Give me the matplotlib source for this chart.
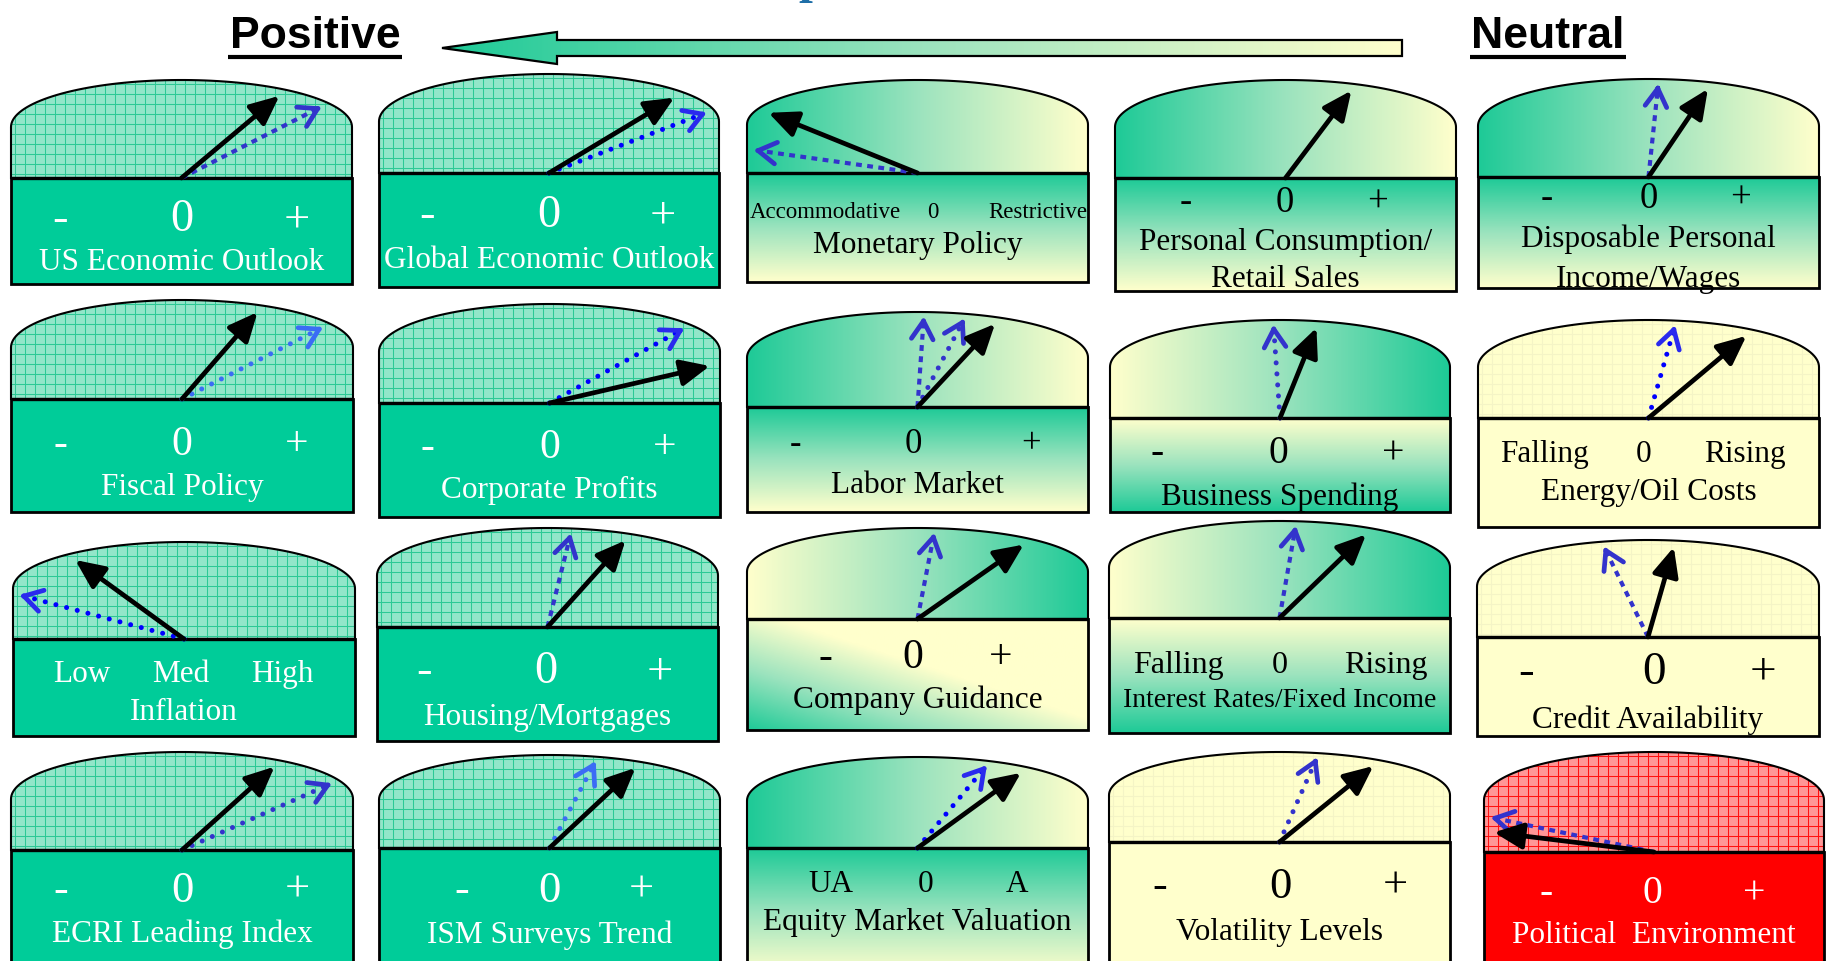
import numpy as np
import matplotlib
matplotlib.use("Agg")
import matplotlib.pyplot as plt
from matplotlib.patches import Polygon, Rectangle, FancyArrowPatch
from matplotlib.path import Path
from matplotlib.collections import LineCollection
from matplotlib.colors import LinearSegmentedColormap
from matplotlib import font_manager as fm

# ── data: one entry per gauge, read row by row (5 columns x 4 rows) ──────
TITLES = [
    ["US Economic Outlook"], ["Global Economic Outlook"], ["Monetary Policy"],
    ["Personal Consumption/", "Retail Sales"], ["Disposable Personal", "Income/Wages"],
    ["Fiscal Policy"], ["Corporate Profits"], ["Labor Market"], ["Business Spending"],
    ["Energy/Oil Costs"],
    ["Inflation"], ["Housing/Mortgages"], ["Company Guidance"],
    ["Interest Rates/Fixed Income"], ["Credit Availability"],
    ["ECRI Leading Index"], ["ISM Surveys Trend"], ["Equity Market Valuation"],
    ["Volatility Levels"], ["Political  Environment"],
]
PM = ("-", "0", "+")
SCALES = [PM, PM, ("Accommodative", "0", "Restrictive"), PM, PM,
          PM, PM, PM, PM, ("Falling", "0", "Rising"),
          ("Low", "Med", "High"), PM, PM, ("Falling", "0", "Rising"), PM,
          PM, PM, ("UA", "0", "A"), PM, PM]
# needle angle in degrees (0 = right, 90 = straight up, 180 = left)
CURRENT = [40, 31, 158, 53, 56,
           49, 13, 47, 68, 40,
           144, 48, 35, 44, 74,
           42, 43, 36, 39, 173]
PREVIOUS = [[27], [21], [172], [], [84],
            [27], [29], [86, 62], [94], [74],
            [165], [76], [79], [80], [116],
            [24], [62], [50], [66], [168]]
THEMES = ["pos", "pos", "neu_l", "neu_l", "neu_l",
          "pos", "pos", "neu_l", "neu_r", "yel",
          "pos", "pos", "neu_diag", "neu_r", "yel",
          "pos", "pos", "neu_l", "yel", "neg"]
HEAD_LEFT, HEAD_RIGHT = "Positive", "Neutral"

# ── layout (pixels, y grows downwards) ──────────────────────────────────
# left, right, dome top, base line, box bottom
BOXES = [(11, 352, 80, 178, 284), (379, 719, 74, 173, 287), (747, 1088, 80, 173, 282),
         (1115, 1456, 80, 178, 291), (1478, 1819, 79, 177, 288),
         (11, 353, 300, 399, 512), (379, 720, 304, 403, 517), (747, 1088, 312, 407, 512),
         (1110, 1450, 320, 418, 512), (1478, 1819, 320, 418, 527),
         (13, 355, 542, 639, 736), (377, 718, 528, 627, 741), (747, 1088, 528, 619, 730),
         (1109, 1450, 521, 618, 733), (1477, 1819, 540, 637, 736),
         (11, 353, 752, 850, 975), (379, 720, 755, 848, 975), (747, 1088, 757, 848, 975),
         (1109, 1450, 752, 842, 975), (1484, 1824, 752, 852, 975)]
SCALE_Y = [216, 212, 210, 200, 196, 441, 444, 442, 450, 452,
           672, 668, 654, 662, 668, 887, 887, 882, 883, 890]
SCALE_DX = [(-122, 0, 115), (-122, 0, 114), (-92, 15, 120), (-100, -1, 92), (-102, 0, 92),
            (-122, 0, 115), (-122, 0, 115), (-122, -4, 114), (-123, -2, 113), (-104, -5, 96),
            (-102, -3, 98), (-124, -2, 112), (-92, -5, 83), (-101, 0, 106), (-122, 6, 115),
            (-121, 0, 115), (-88, 0, 92), (-87, 8, 100), (-120, 1, 116), (-108, -2, 100)]
SCALE_SIZE = [33.5, 33.5, 16.5, 26.5, 26.5, 30, 30, 25, 28.5, 22.5,
              22.5, 33.5, 30, 23, 34, 32, 32, 22.5, 32, 28.5]
TITLE_Y = [[260], [258], [243], [240, 277], [237, 277], [485], [488], [483], [495], [490],
           [710], [715], [698], [698], [718], [932], [933], [920], [930], [933]]
TITLE_SIZE = [22.5] * 20
TITLE_SIZE[13] = 20
PREV_STYLE = [["sq"], ["rd"], ["sq"], [], ["sq"],
              ["rdl"], ["rd"], ["sq", "rd2"], ["rd2"], ["rd"],
              ["rd"], ["sq"], ["sq"], ["sq"], ["sq"],
              ["rd2"], ["rdl"], ["rd"], ["rd2"], ["sq"]]

TEAL, TEAL_G, YEL, RED = "#00CC99", "#1ECA97", "#FFFFCC", "#FF0000"
BLUES = {"sq": "#3333CC", "rd": "#0000FF", "rd2": "#3333CC", "rdl": "#3B6CF5"}
SERIF = ["Liberation Serif", "DejaVu Serif"]
cmap_ty = LinearSegmentedColormap.from_list("ty", [TEAL_G, "#9BE3BE", YEL])


def has_font(name):
    try:
        fm.findfont(fm.FontProperties(family=name), fallback_to_default=False)
        return True
    except ValueError:
        return False


NARROW = has_font("Liberation Sans Narrow")

fig = plt.figure(figsize=(18.3, 9.61), dpi=100)
ax = fig.add_axes([0, 0, 1, 1])
ax.set_xlim(0, 1830)
ax.set_ylim(961, 0)
ax.axis("off")


def dome_verts(l, r, top, base):
    hw, cx = (r - l) / 2, (l + r) / 2
    arc = 0.48 * (base - top)
    t = np.linspace(np.pi, 0, 80)
    pts = [(l, base), (l, top + arc)]
    pts += list(zip(cx + hw * np.cos(t), top + arc - arc * np.sin(t)))
    pts += [(r, top + arc), (r, base)]
    return np.array(pts)


def gradient(patch, l, r, top, bot, kind):
    u = np.linspace(0, 1, 200)
    U, V = np.meshgrid(u, np.linspace(0, 1, 120))
    if kind == "lr":
        arr = U
    elif kind == "rl":
        arr = 1 - U
    elif kind == "tb":
        arr = V
    elif kind == "bt":
        arr = 1 - V
    else:  # teal bottom-left, yellow top-right
        arr = np.clip((U + (1 - V)) / 1.1, 0, 1)
    im = ax.imshow(arr, cmap=cmap_ty, vmin=0, vmax=1, extent=(l, r, bot, top),
                   origin="upper", aspect="auto", interpolation="bilinear", zorder=1)
    im.set_clip_path(patch)


def grid(patch, l, r, top, bot, color, step=10):
    segs = [[(x, top), (x, bot)] for x in np.arange(l + 4, r, step)]
    segs += [[(l, y), (r, y)] for y in np.arange(top + 4, bot, step)]
    lc = LineCollection(segs, colors=color, linewidths=0.75, zorder=2)
    lc.set_clip_path(patch)
    ax.add_collection(lc)


def ray_length(path, x0, y0, ang):
    d = np.array([np.cos(np.radians(ang)), -np.sin(np.radians(ang))])
    ts = np.arange(2, 400, 0.5)
    pts = np.column_stack([x0 + ts * d[0], y0 - 1 + ts * d[1]])
    inside = path.contains_points(pts)
    out = np.where(~inside)[0]
    return ts[out[0]] if len(out) else ts[-1]


DOME_STYLE = {"pos": ("hatch", "#92E6C9", "#2CC995"), "neg": ("hatch", "#FF9696", "#FF1010"),
              "yel": ("hatch", YEL, "#F4F4C6"), "neu_l": ("grad", "lr", None),
              "neu_r": ("grad", "rl", None), "neu_diag": ("grad", "rl", None)}
BOX_STYLE = {"pos": ("solid", TEAL), "neg": ("solid", RED), "yel": ("solid", YEL),
             "neu_l": ("grad", "tb"), "neu_r": ("grad", "bt"), "neu_diag": ("grad", "diag")}

for i, (l, r, top, base, bot) in enumerate(BOXES):
    theme = THEMES[i]
    cx = (l + r) / 2

    # dome
    verts = dome_verts(l, r, top, base)
    ds = DOME_STYLE[theme]
    dome = Polygon(verts, closed=True, facecolor=ds[1] if ds[0] == "hatch" else "none",
                   edgecolor="none", zorder=1)
    ax.add_patch(dome)
    if ds[0] == "hatch":
        grid(dome, l, r, top, base, ds[2])
    else:
        gradient(dome, l, r, top, base, ds[1])
    ax.add_patch(Polygon(verts, closed=True, facecolor="none", edgecolor="black",
                         lw=1.5, zorder=3))

    # box
    bs = BOX_STYLE[theme]
    box = Rectangle((l, base), r - l, bot - base,
                    facecolor=bs[1] if bs[0] == "solid" else "none", edgecolor="none", zorder=1)
    ax.add_patch(box)
    if bs[0] == "grad":
        gradient(box, l, r, base, bot, bs[1])
    ax.add_patch(Rectangle((l, base), r - l, bot - base, facecolor="none",
                           edgecolor="black", lw=2.0, zorder=3))
    ax.plot([l, r], [base, base], color="black", lw=2.4, zorder=3, solid_capstyle="butt")

    # texts
    tcol = "white" if theme in ("pos", "neg") else "black"
    sz = SCALE_SIZE[i]
    for lab, dx in zip(SCALES[i], SCALE_DX[i]):
        ax.text(cx + dx, SCALE_Y[i] + 0.33 * sz * 100 / 72, lab, ha="center", va="baseline",
                fontsize=sz, color=tcol, family=SERIF, zorder=4)
    for line, ty in zip(TITLES[i], TITLE_Y[i]):
        ts = TITLE_SIZE[i]
        ax.text(cx, ty + 0.33 * ts * 100 / 72, line, ha="center", va="baseline",
                fontsize=ts, color=tcol, family=SERIF, zorder=4)

    # needles: previous reading (blue, dotted) then current (black)
    path = Path(verts)
    for ang, sty in zip(PREVIOUS[i], PREV_STYLE[i]):
        L = 0.96 * ray_length(path, cx, base, ang)
        d = np.array([np.cos(np.radians(ang)), -np.sin(np.radians(ang))])
        tip = np.array([cx, base]) + L * d
        col = BLUES[sty]
        if sty == "sq":
            ax.plot([cx, tip[0] - 4 * d[0]], [base, tip[1] - 4 * d[1]], color=col, lw=3.0,
                    dashes=(1.4, 1.3), solid_capstyle="butt", dash_capstyle="butt", zorder=5)
        else:
            ax.plot([cx, tip[0] - 4 * d[0]], [base, tip[1] - 4 * d[1]], color=col, lw=3.6,
                    dashes=(0.01, 2.2), dash_capstyle="round", zorder=5)
        ax.add_patch(FancyArrowPatch(tuple(tip - 6 * d), tuple(tip),
                                     arrowstyle="->,head_length=1.0,head_width=0.6",
                                     mutation_scale=13, lw=3.4,
                                     color=col if sty != "rd" else "#2A2AEE",
                                     shrinkA=0, shrinkB=0, zorder=5))
    L = 0.94 * ray_length(path, cx, base, CURRENT[i])
    d = np.array([np.cos(np.radians(CURRENT[i])), -np.sin(np.radians(CURRENT[i]))])
    tip = np.array([cx, base]) + L * d
    ax.add_patch(FancyArrowPatch((cx, base), tuple(tip),
                                 arrowstyle="-|>,head_length=1.1,head_width=0.5",
                                 mutation_scale=16, lw=3.4, color="black",
                                 shrinkA=0, shrinkB=0, zorder=6))

# ── header: Positive <──── Neutral ─────────────────────────────────────
arrow_pts = np.array([(442, 48), (557, 32), (557, 40), (1402, 40), (1402, 56),
                      (557, 56), (557, 64)])
band = Polygon(arrow_pts, closed=True, facecolor="none", edgecolor="none", zorder=1)
ax.add_patch(band)
gradient(band, 442, 1402, 32, 64, "lr")
ax.add_patch(Polygon(arrow_pts, closed=True, facecolor="none", edgecolor="black",
                     lw=1.6, zorder=3))

if NARROW:
    hkw = dict(family=["Liberation Sans Narrow", "DejaVu Sans"], fontsize=38)
else:
    hkw = dict(family=["Liberation Sans", "DejaVu Sans"], fontsize=32)
ax.text(315, 48, HEAD_LEFT, ha="center", va="baseline", weight="bold", color="black", **hkw)
ax.text(1548, 48, HEAD_RIGHT, ha="center", va="baseline", weight="bold", color="black", **hkw)
ax.plot([228, 402], [57, 57], color="black", lw=3, solid_capstyle="butt")
ax.plot([1470, 1626], [57, 57], color="black", lw=3, solid_capstyle="butt")

# cut-off blue title at the very top (only a descender is visible)
ax.text(798, -8, "p", ha="left", va="baseline", fontsize=36, weight="bold",
        color="#1F6FA8", family=SERIF)

ax.set_xlim(0, 1830)
ax.set_ylim(961, 0)
fig.savefig("out.png", dpi=100, facecolor="white")
plt.close(fig)
